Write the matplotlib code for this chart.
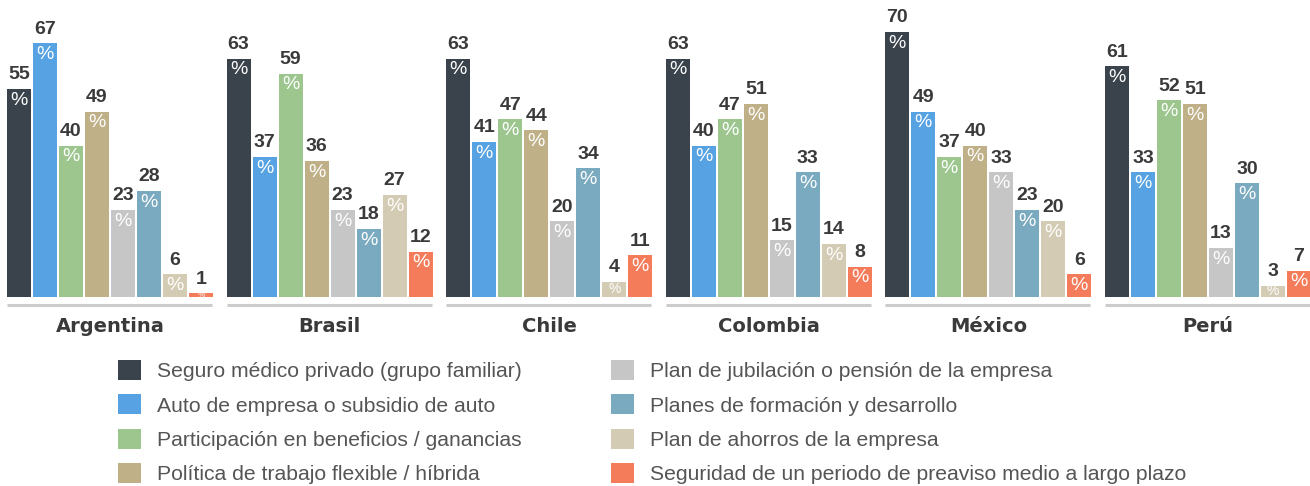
import matplotlib.pyplot as plt
from matplotlib.patches import Patch

countries = ['Argentina', 'Brasil', 'Chile', 'Colombia', 'México', 'Perú']
benefits = [
    'Seguro médico privado (grupo familiar)',
    'Auto de empresa o subsidio de auto',
    'Participación en beneficios / ganancias',
    'Política de trabajo flexible / híbrida',
    'Plan de jubilación o pensión de la empresa',
    'Planes de formación y desarrollo',
    'Plan de ahorros de la empresa',
    'Seguridad de un periodo de preaviso medio a largo plazo',
]
argentina = [55, 67, 40, 49, 23, 28, 6, 1]
brasil = [63, 37, 59, 36, 23, 18, 27, 12]
chile = [63, 41, 47, 44, 20, 34, 4, 11]
colombia = [63, 40, 47, 51, 15, 33, 14, 8]
mexico = [70, 49, 37, 40, 33, 23, 20, 6]
peru = [61, 33, 52, 51, 13, 30, 3, 7]
values = [argentina, brasil, chile, colombia, mexico, peru]

colors = ['#3a434c', '#56a2e2', '#9dc68f', '#bfb088',
          '#c6c6c6', '#7aaabf', '#d4cbb4', '#f47c5a']

W, H = 1310, 486
fig = plt.figure(figsize=(W / 100, H / 100), dpi=100)

txt = '#3a3a3a'
base_y = 297          # pixel row of bar baseline
ymax = 75
px_per_unit = 3.785
ax_h = ymax * px_per_unit
ax_w = 8 * 26

for i, (country, vals) in enumerate(zip(countries, values)):
    left = 6 + i * 219.6
    ax = fig.add_axes([left / W, (H - base_y) / H, ax_w / W, ax_h / H])
    ax.bar(range(8), vals, width=0.92, color=colors)
    ax.set_xlim(-0.5, 7.5)
    ax.set_ylim(0, ymax)
    ax.axis('off')
    for j, v in enumerate(vals):
        ax.annotate(str(v), (j, v), xytext=(0, 4), textcoords='offset points',
                    ha='center', va='bottom', fontsize=14, fontweight='bold',
                    color=txt, family='Liberation Sans')
        if v >= 6:
            ax.annotate('%', (j, v), xytext=(0, -2), textcoords='offset points',
                        ha='center', va='top', fontsize=14, color='white',
                        family='Liberation Sans')
        else:
            ax.annotate('%', (j, v / 2), ha='center', va='center',
                        fontsize=10 if v >= 3 else 6, color='white',
                        family='Liberation Sans')
    ax.plot([0.005, 0.99], [-0.028, -0.028], transform=ax.transAxes,
            color='#cccccc', lw=2.2, clip_on=False, solid_capstyle='butt')
    ax.text(0.5, -0.105, country, transform=ax.transAxes, ha='center',
            va='center', fontsize=14, fontweight='bold', color=txt,
            family='DejaVu Sans')

handles = [Patch(facecolor=c, edgecolor='none') for c in colors]
fig.legend(handles, benefits, ncol=2, loc='upper left',
           bbox_to_anchor=(99 / W, 1 - 341 / H), frameon=False,
           prop={'family': 'Liberation Sans', 'size': 15.2},
           labelcolor='#555555', handlelength=1.09, handleheight=1.09,
           handletextpad=0.76, labelspacing=0.62, columnspacing=4.23)

fig.savefig('out.png', dpi=100)
